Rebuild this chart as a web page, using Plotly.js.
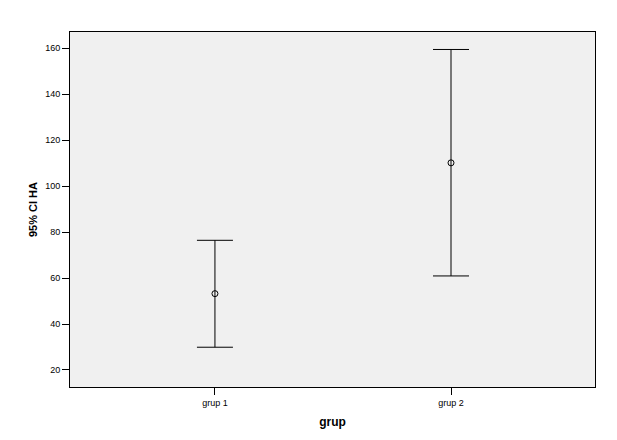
<!DOCTYPE html>
<html>
<head>
<meta charset="utf-8">
<script src="https://cdn.plot.ly/plotly-3.0.1.min.js"></script>
<style>
  html, body { margin: 0; padding: 0; background: #fff; }
  #chart { width: 617px; height: 440px; }
</style>
</head>
<body>
<div id="chart"></div>
<script>
// groups and their 95% confidence intervals
const groups = ["grup 1", "grup 2"];
const means = [53.2, 110.1];
const upper = [76.4, 159.4];
const lower = [29.9, 60.9];
const yTicks = [20, 40, 60, 80, 100, 120, 140, 160];

const trace = {
  x: groups,
  y: means,
  type: "scatter",
  mode: "markers",
  marker: {
    symbol: "circle-open",
    size: 6,
    color: "#000",
    line: { width: 1, color: "#000" },
  },
  error_y: {
    type: "data",
    symmetric: false,
    array: upper.map((u, i) => u - means[i]),
    arrayminus: means.map((m, i) => m - lower[i]),
    color: "#000",
    thickness: 1,
    width: 18,
  },
  hoverinfo: "none",
};

const axisFont = { family: "Liberation Sans, Arial, sans-serif", size: 9, color: "#000" };

const layout = {
  width: 617,
  height: 440,
  margin: { l: 70, r: 22, t: 32, b: 53 },
  paper_bgcolor: "#fff",
  plot_bgcolor: "#f0f0f0",
  showlegend: false,
  xaxis: {
    type: "category",
    range: [-0.614, 1.61],
    showgrid: false,
    zeroline: false,
    showline: true,
    mirror: true,
    linecolor: "#000",
    linewidth: 1,
    ticks: "outside",
    ticklen: 7,
    tickcolor: "#000",
    tickfont: axisFont,
    title: {
      text: "grup",
      font: { family: "Liberation Sans, Arial, sans-serif", size: 12, color: "#000", weight: "bold" },
      standoff: 10,
    },
  },
  yaxis: {
    range: [12.6, 167],
    tickvals: yTicks,
    showgrid: false,
    zeroline: false,
    showline: true,
    mirror: true,
    linecolor: "#000",
    linewidth: 1,
    ticks: "outside",
    ticklen: 7,
    tickcolor: "#000",
    tickfont: axisFont,
    title: {
      text: "95% CI HA",
      font: { family: "Liberation Sans, Arial, sans-serif", size: 11, color: "#000", weight: "bold" },
      standoff: 5,
    },
  },
};

Plotly.newPlot("chart", [trace], layout, { displayModeBar: false, staticPlot: true });
</script>
</body>
</html>
